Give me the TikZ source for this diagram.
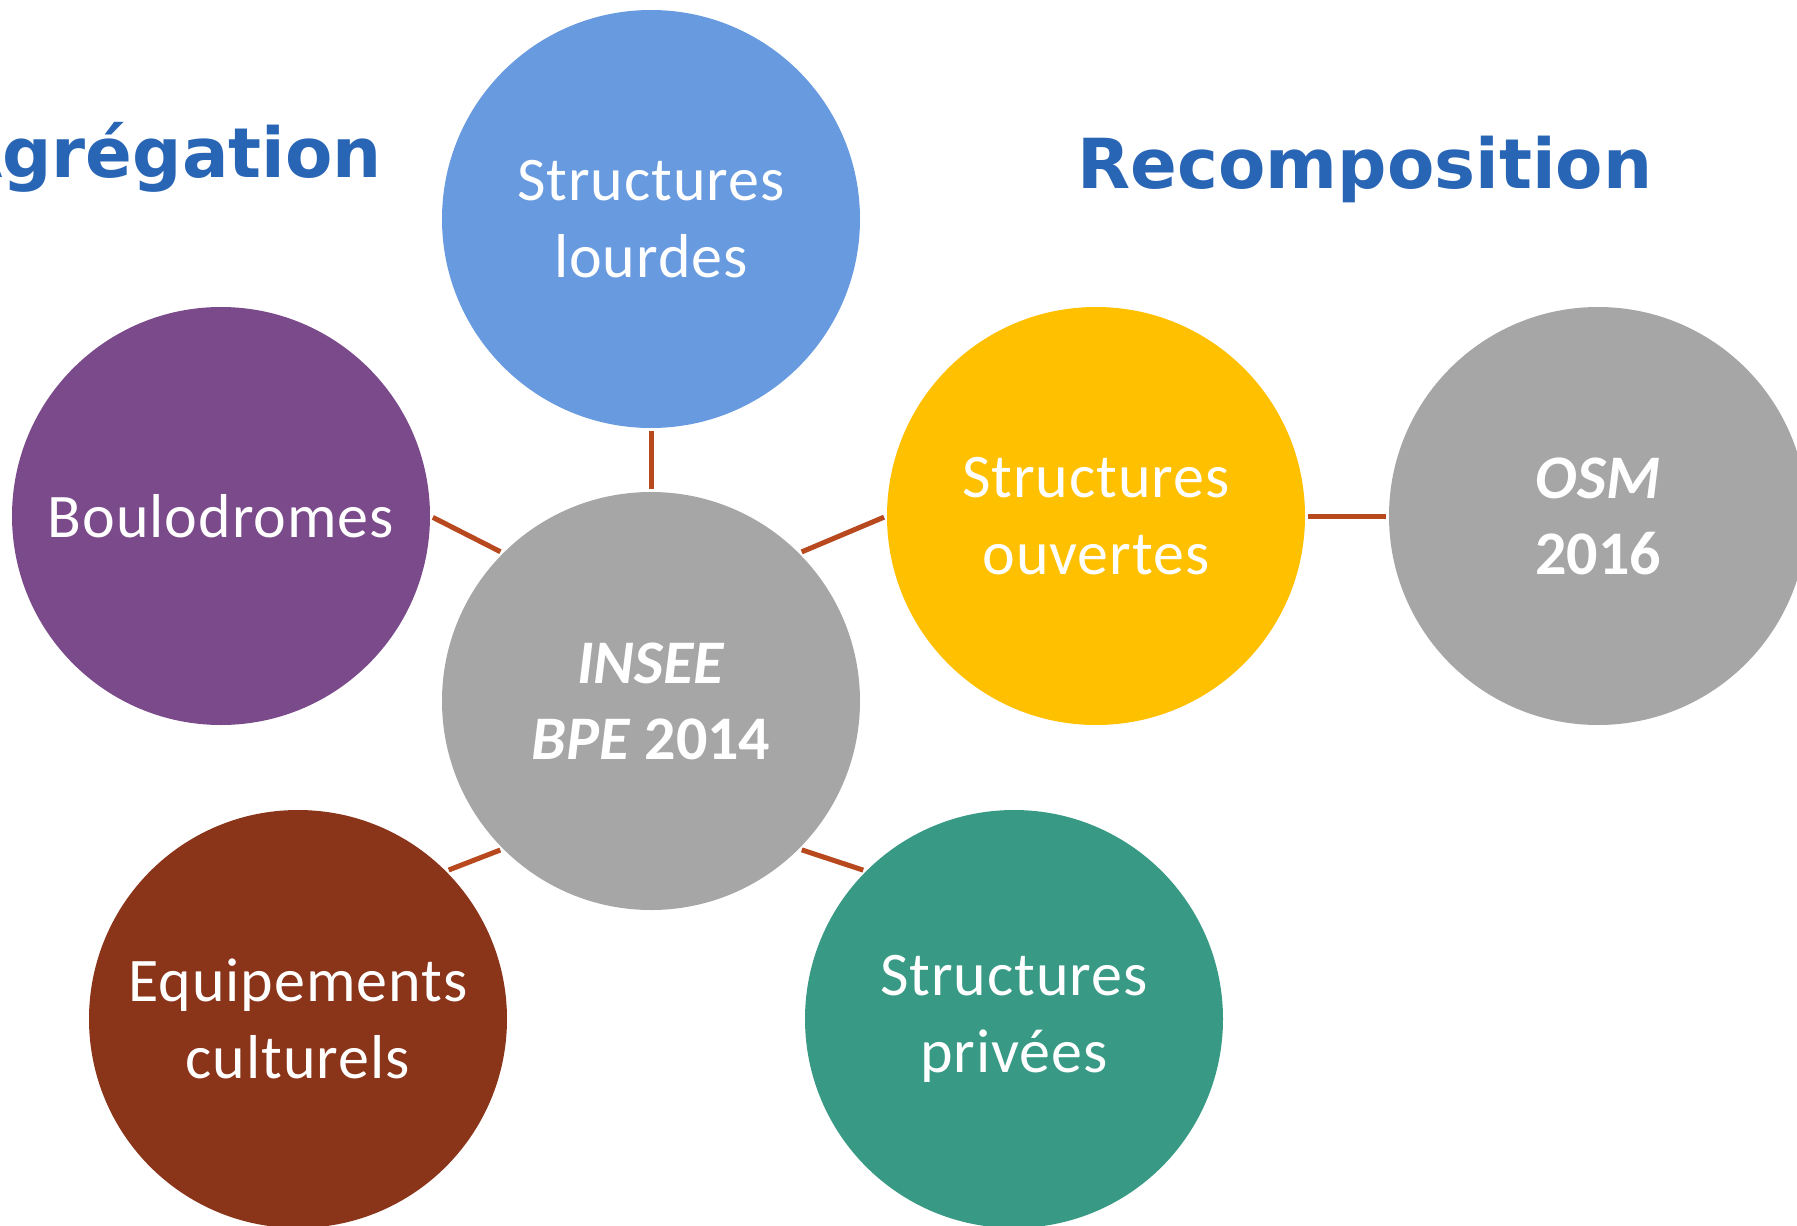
\documentclass[tikz,border=0pt]{standalone}
\usepackage{fontspec}
\setmainfont{Carlito}
\newfontfamily\bubfont{Carlito}[LetterSpace=1.6]
\newfontfamily\titlefont{DejaVu Sans}
\definecolor{blueC}{RGB}{104,154,224}
\definecolor{purpleC}{RGB}{123,74,138}
\definecolor{grayC}{RGB}{166,166,166}
\definecolor{yellowC}{RGB}{255,192,0}
\definecolor{brownC}{RGB}{138,52,26}
\definecolor{greenC}{RGB}{56,154,133}
\definecolor{titleC}{RGB}{41,101,181}
\definecolor{connC}{RGB}{184,72,30}
\begin{document}
\begin{tikzpicture}[x=1pt,y=-1pt,
  bubble/.style={circle, minimum size=418pt, inner sep=0pt, text=white, align=center, font=\bubfont\fontsize{62}{77}\selectfont},
  conn/.style={draw=connC, line width=5pt, shorten <=3pt, shorten >=3pt},
  titletext/.style={text=titleC, font=\titlefont\bfseries\fontsize{69}{83}\selectfont, inner sep=0pt}]
\useasboundingbox (0,0) rectangle (1797,1226);
\clip (0,0) rectangle (1797,1226);
\fill[white] (0,0) rectangle (1797,1226);
\node[bubble, fill=blueC] (lourdes) at (651,219) {Structures\\lourdes};
\node[bubble, fill=purpleC] (boul) at (221,516) {Boulodromes};
\node[bubble, fill=grayC, font=\fontsize{62}{76}\selectfont\bfseries] (insee) at (651,701) {\textit{INSEE}\\\textit{BPE} 2014};
\node[bubble, fill=yellowC] (ouv) at (1096,516) {Structures\\ouvertes};
\node[bubble, fill=grayC, font=\fontsize{62}{76}\selectfont\bfseries] (osm) at (1598,516) {\textit{OSM}\\2016};
\node[bubble, fill=brownC] (cult) at (298,1019) {Equipements\\culturels};
\node[bubble, fill=greenC] (priv) at (1014,1019) {Structures\\privées};
\draw[conn] (insee.90) -- (lourdes.-90);
\draw[conn] (insee.135) -- (boul.0);
\draw[conn] (insee.45) -- (ouv.180);
\draw[conn] (insee.-135) -- (cult.45);
\draw[conn] (insee.-45) -- (priv.135);
\draw[conn] (ouv.0) -- (osm.180);
\node[titletext, anchor=base east] (agr) at (382,177) {Agrégation};
\node[titletext, anchor=base] (rec) at (1365,188) {Recomposition};
\end{tikzpicture}
\end{document}
